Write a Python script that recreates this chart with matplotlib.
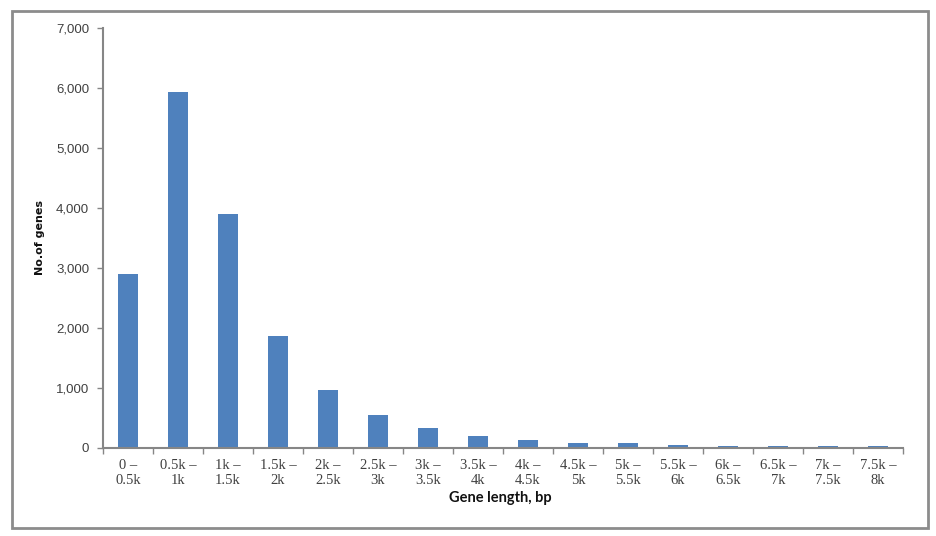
import matplotlib
matplotlib.use("Agg")
import matplotlib.pyplot as plt
from matplotlib.patches import Rectangle

categories = ["0 –\n0.5k", "0.5k –\n1k", "1k –\n1.5k", "1.5k –\n2k", "2k –\n2.5k",
              "2.5k –\n3k", "3k –\n3.5k", "3.5k –\n4k", "4k –\n4.5k", "4.5k –\n5k",
              "5k –\n5.5k", "5.5k –\n6k", "6k –\n6.5k", "6.5k –\n7k", "7k –\n7.5k",
              "7.5k –\n8k"]
counts = [2890, 5930, 3900, 1866, 960, 542, 320, 190, 125, 70, 70, 50, 25, 25, 25, 25]
yticks = [0, 1000, 2000, 3000, 4000, 5000, 6000, 7000]
ytick_labels = ["0", "1,000", "2,000", "3,000", "4,000", "5,000", "6,000", "7,000"]

W, H = 937, 536
fig = plt.figure(figsize=(W / 100, H / 100), dpi=100)
fig.patch.set_facecolor("white")

# outer frame
fig.patches.append(Rectangle((12 / W, 1 - 528 / H), (928 - 12) / W, (528 - 11) / H,
                             transform=fig.transFigure, fill=False,
                             edgecolor="#8c8c8c", linewidth=2))

ax = fig.add_axes([103 / W, 1 - 447.5 / H, (903 - 103) / W, (447.5 - 28) / H])
n = len(counts)
centers = [i + 0.5 for i in range(n)]
ax.bar(centers, counts, width=0.4, color="#4F81BD", zorder=2)

ax.set_xlim(0, n)
ax.set_ylim(0, 7000)
ax.set_yticks(yticks)
ax.set_yticklabels(ytick_labels, fontsize=9.5, color="#404040",
                   family="Liberation Sans")
ax.set_xticks(list(range(n + 1)))
ax.set_xticklabels([])
ax.set_xticks(centers, minor=True)
ax.set_xticklabels(categories, minor=True, fontsize=10.5, color="#404040",
                   family="Liberation Serif", linespacing=1.2)
ax.tick_params(axis="x", which="minor", length=0, pad=8.5)
ax.tick_params(axis="x", which="major", length=4, direction="out",
               color="#868686", width=1)
ax.tick_params(axis="y", length=4, direction="out", color="#868686",
               width=1, pad=6)

for s in ["top", "right"]:
    ax.spines[s].set_visible(False)
for s in ["left", "bottom"]:
    ax.spines[s].set_color("#868686")
    ax.spines[s].set_linewidth(1.5)

fig.text(500 / W, 1 - 498 / H, "Gene length, bp", ha="center", va="center",
         fontsize=10.5, fontweight="bold", family="Lato", color="#111111")
fig.text(40 / W, 1 - 237 / H, "No.of genes", ha="center", va="center",
         rotation=90, fontsize=8, fontweight="bold", family="DejaVu Sans",
         color="#111111")

fig.savefig("out.png", dpi=100)
